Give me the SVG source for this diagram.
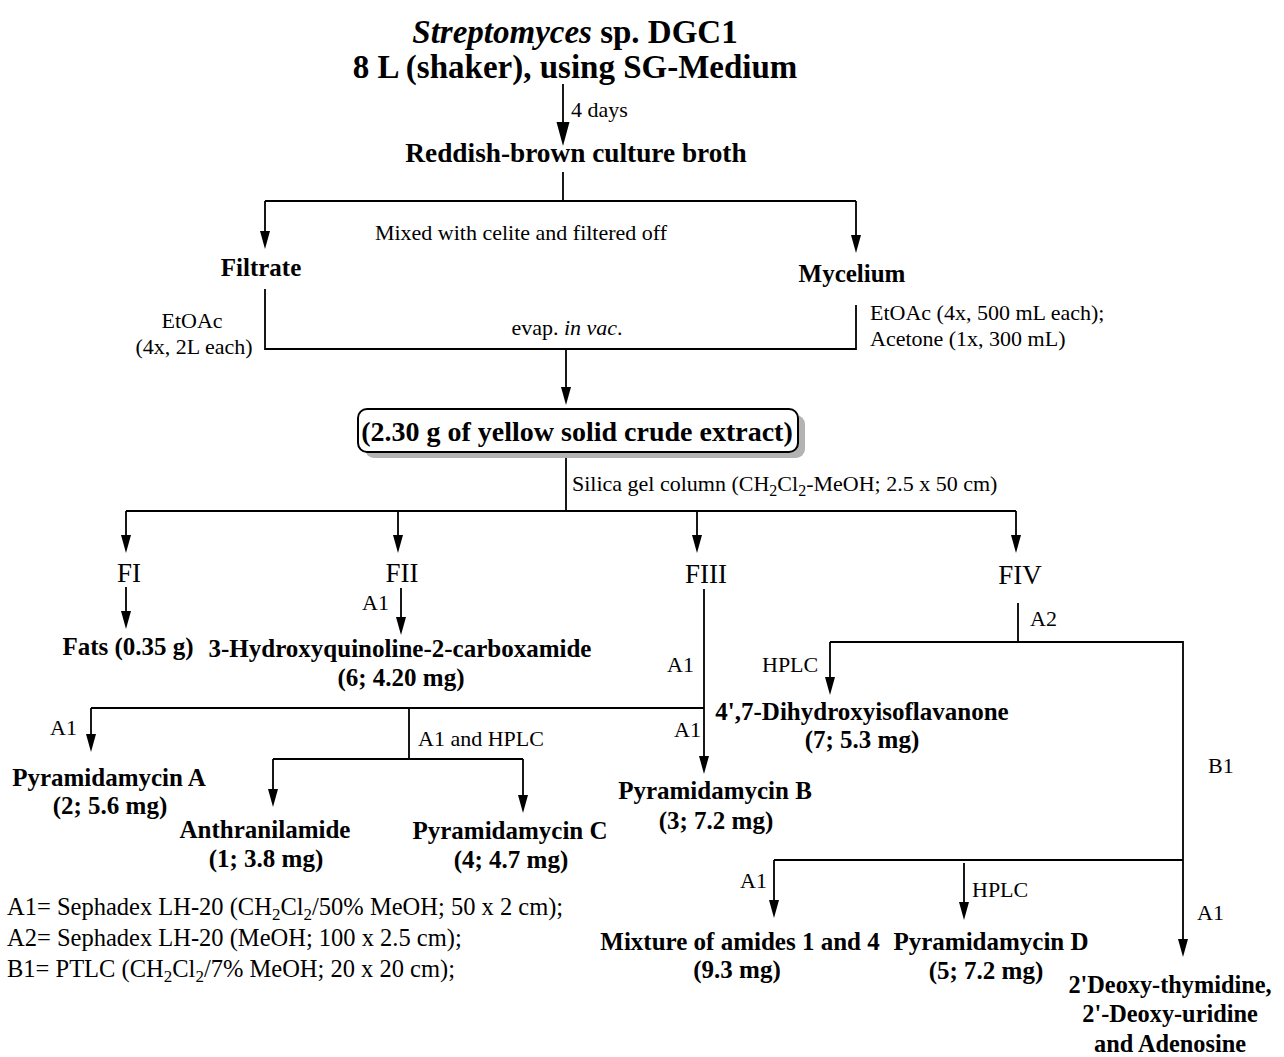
<svg xmlns="http://www.w3.org/2000/svg" width="1284" height="1057" viewBox="0 0 1284 1057">
<defs>
<style>
text{font-family:"Liberation Serif","Times New Roman",serif;fill:#000}
.r{font-size:22px}
.lg{font-size:24.5px}
.b{font-size:25px;font-weight:bold}
.f{font-size:27px}
.m{text-anchor:middle}
.ln{fill:none;stroke:#000;stroke-width:1.8}
.hd{fill:#000}
</style>
</defs>
<rect width="1284" height="1057" fill="#fff"/>

<g id="connectors">
<path class="ln" d="M563,84 V126"/>
<path class="hd" d="M556.5,122 L569.5,122 L563,146 z"/>
<path class="ln" d="M563,172 V201 M265,201 H856 M265,201 V234 M856,201 V238"/>
<path class="hd" d="M260,231 L270,231 L265,249 z M851,235 L861,235 L856,253 z"/>
<path class="ln" d="M265,289 V349 H856 V305 M566,349 V390"/>
<path class="hd" d="M561,387 L571,387 L566,405 z"/>
<path class="ln" d="M566,452 V511 M126,511 H1016 M126,511 V538 M398,511 V538 M697,511 V538 M1016,511 V538"/>
<path class="hd" d="M121,535 L131,535 L126,553 z M393,535 L403,535 L398,553 z M692,535 L702,535 L697,553 z M1011,535 L1021,535 L1016,553 z"/>
<path class="ln" d="M126,587 V614 M401,588 V620"/>
<path class="hd" d="M121,611 L131,611 L126,629 z M396,617 L406,617 L401,635 z"/>
<path class="ln" d="M704,589 V758 M91,708 H704 M91,708 V737 M409,708 V759 M273,759 H523 M273,759 V792 M523,759 V797"/>
<path class="hd" d="M699,756 L709,756 L704,774 z M86,734 L96,734 L91,752 z M268,789 L278,789 L273,807 z M518,795 L528,795 L523,813 z"/>
<path class="ln" d="M1018,603 V642 M830,642 H1183 V942 M830,642 V680 M774,860 H1183 M774,860 V903 M964,863 V905"/>
<path class="hd" d="M825,677 L835,677 L830,695 z M1178,939 L1188,939 L1183,957 z M769,900 L779,900 L774,918 z M959,902 L969,902 L964,920 z"/>
</g>

<g id="n-title">
<text x="575" y="43" text-anchor="middle" style="font-size:33px;font-weight:bold"><tspan font-style="italic">Streptomyces</tspan> sp. DGC1</text>
<text x="575" y="78" text-anchor="middle" style="font-size:33px;font-weight:bold">8 L (shaker), using SG-Medium</text>
</g>
<text class="r" x="571" y="117">4 days</text>
<g id="n-broth"><text x="576" y="162" text-anchor="middle" style="font-size:27.3px;font-weight:bold">Reddish-brown culture broth</text></g>
<text class="r m" x="521" y="240">Mixed with celite and filtered off</text>
<g id="n-filtrate"><text class="b m" x="261" y="276">Filtrate</text></g>
<g id="n-mycelium"><text class="b m" x="852" y="282">Mycelium</text></g>
<text class="r m" x="192" y="328">EtOAc</text>
<text class="r m" x="194" y="354">(4x, 2L each)</text>
<text class="r m" x="567" y="335">evap. <tspan font-style="italic">in vac</tspan>.</text>
<text class="r" x="870" y="320">EtOAc (4x, 500 mL each);</text>
<text class="r" x="870" y="346">Acetone (1x, 300 mL)</text>

<g id="n-crude">
<rect x="365" y="415" width="440" height="43" rx="9" fill="#b3b3b3"/>
<rect x="358" y="409" width="440" height="43" rx="9" fill="#fff" stroke="#000" stroke-width="2"/>
<text x="577" y="441" text-anchor="middle" style="font-size:28px;font-weight:bold">(2.30 g of yellow solid crude extract)</text>
</g>
<text class="r" x="572" y="491">Silica gel column (CH<tspan dy="5" font-size="16">2</tspan><tspan dy="-5">Cl</tspan><tspan dy="5" font-size="16">2</tspan><tspan dy="-5">-MeOH; 2.5 x 50 cm)</tspan></text>

<g id="n-fi"><text class="f m" x="129" y="582">FI</text></g>
<g id="n-fii"><text class="f m" x="402" y="582">FII</text></g>
<g id="n-fiii"><text class="f m" x="706" y="583">FIII</text></g>
<g id="n-fiv"><text class="f m" x="1020" y="584">FIV</text></g>

<g id="n-fats"><text class="b m" x="128" y="655">Fats (0.35 g)</text></g>
<text class="r" x="362" y="610">A1</text>
<g id="n-hqc"><text class="b m" x="400" y="657">3-Hydroxyquinoline-2-carboxamide</text><text class="b m" x="401" y="686">(6; 4.20 mg)</text></g>

<text class="r" x="667" y="672">A1</text>
<text class="r" x="674" y="737">A1</text>
<text class="r" x="50" y="735">A1</text>
<text class="r" x="418" y="746">A1 and HPLC</text>
<g id="n-pyrA"><text class="b m" x="109" y="786">Pyramidamycin A</text><text class="b m" x="110" y="814">(2; 5.6 mg)</text></g>
<g id="n-anth"><text class="b m" x="265" y="838">Anthranilamide</text><text class="b m" x="266" y="867">(1; 3.8 mg)</text></g>
<g id="n-pyrC"><text class="b m" x="510" y="839">Pyramidamycin C</text><text class="b m" x="511" y="868">(4; 4.7 mg)</text></g>
<g id="n-pyrB"><text class="b m" x="715" y="799">Pyramidamycin B</text><text class="b m" x="716" y="829">(3; 7.2 mg)</text></g>

<text class="r" x="1030" y="626">A2</text>
<text class="r" x="762" y="672">HPLC</text>
<g id="n-dhi"><text class="b m" x="862" y="720">4',7-Dihydroxyisoflavanone</text><text class="b m" x="862" y="748">(7; 5.3 mg)</text></g>
<text class="r" x="1208" y="773">B1</text>
<text class="r" x="740" y="888">A1</text>
<text class="r" x="972" y="897">HPLC</text>
<text class="r" x="1197" y="920">A1</text>
<g id="n-mix"><text class="b m" x="740" y="950">Mixture of amides 1 and 4</text><text class="b m" x="737" y="978">(9.3 mg)</text></g>
<g id="n-pyrD"><text class="b m" x="991" y="950">Pyramidamycin D</text><text class="b m" x="986" y="979">(5; 7.2 mg)</text></g>
<g id="n-nuc" style="font-size:24.3px"><text class="m" x="1170" y="993" font-weight="bold">2'Deoxy-thymidine,</text><text class="m" x="1170" y="1022" font-weight="bold">2'-Deoxy-uridine</text><text class="m" x="1170" y="1052" font-weight="bold">and Adenosine</text></g>

<g id="legend">
<text class="lg" x="7" y="915">A1= Sephadex LH-20 (CH<tspan dy="5" font-size="17">2</tspan><tspan dy="-5">Cl</tspan><tspan dy="5" font-size="17">2</tspan><tspan dy="-5">/50% MeOH; 50 x 2 cm);</tspan></text>
<text class="lg" x="7" y="946">A2= Sephadex LH-20 (MeOH; 100 x 2.5 cm);</text>
<text class="lg" x="7" y="977">B1= PTLC (CH<tspan dy="5" font-size="17">2</tspan><tspan dy="-5">Cl</tspan><tspan dy="5" font-size="17">2</tspan><tspan dy="-5">/7% MeOH; 20 x 20 cm);</tspan></text>
</g>
</svg>
